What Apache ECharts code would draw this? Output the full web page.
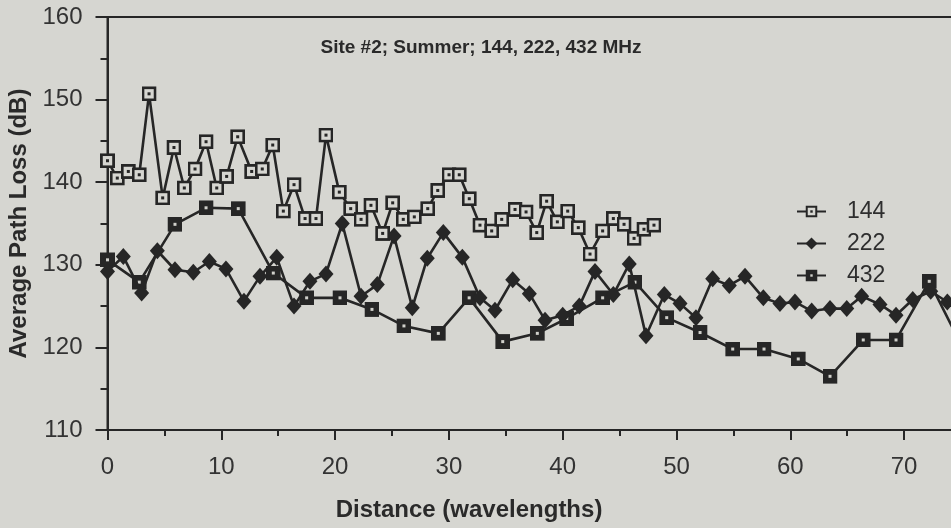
<!DOCTYPE html>
<html>
<head>
<meta charset="utf-8">
<script src="https://cdn.jsdelivr.net/npm/echarts/dist/echarts.min.js"></script>
<style>
html,body{margin:0;padding:0;background:#d6d6d1;}
#chart{width:951px;height:528px;}
</style>
</head>
<body>
<div id="chart"></div>
<script>
// ---- data ----
const seriesNames = ['144', '222', '432'];
const xTicks = [0, 10, 20, 30, 40, 50, 60, 70];
const yTicks = [110, 120, 130, 140, 150, 160];

const x144 = [0, 0.86, 1.83, 2.79, 3.65, 4.85, 5.84, 6.75, 7.69, 8.66, 9.6, 10.47, 11.44, 12.67, 13.6, 14.52, 15.45, 16.39, 17.36, 18.32, 19.2, 20.37, 21.37, 22.28, 23.15, 24.18, 25.06, 25.99, 26.96, 28.14, 29.02, 30.01, 30.91, 31.79, 32.73, 33.76, 34.64, 35.81, 36.78, 37.72, 38.59, 39.53, 40.44, 41.37, 42.4, 43.51, 44.45, 45.39, 46.27, 47.14, 48.02];
const y144 = [142.6, 140.5, 141.3, 140.9, 150.7, 138.1, 144.2, 139.3, 141.6, 144.9, 139.3, 140.7, 145.5, 141.3, 141.6, 144.5, 136.5, 139.7, 135.6, 135.6, 145.7, 138.8, 136.8, 135.5, 137.2, 133.8, 137.5, 135.5, 135.8, 136.8, 139.0, 140.9, 140.9, 138.0, 134.8, 134.1, 135.5, 136.7, 136.4, 133.9, 137.7, 135.2, 136.5, 134.5, 131.3, 134.1, 135.6, 134.9, 133.2, 134.3, 134.8];

const x222 = [0, 1.39, 3.0, 4.38, 5.93, 7.54, 8.95, 10.41, 11.99, 13.4, 14.87, 16.39, 17.79, 19.2, 20.63, 22.28, 23.71, 25.18, 26.78, 28.1, 29.51, 31.18, 32.73, 34.05, 35.61, 37.07, 38.45, 40.0, 41.46, 42.84, 44.45, 45.85, 47.32, 48.93, 50.31, 51.71, 53.18, 54.64, 56.02, 57.63, 59.09, 60.41, 61.88, 63.49, 64.96, 66.27, 67.88, 69.29, 70.76, 72.34, 73.8];
const y222 = [129.2, 131.0, 126.6, 131.7, 129.4, 129.1, 130.4, 129.5, 125.6, 128.6, 130.9, 125.0, 128.0, 128.9, 135.0, 126.2, 127.6, 133.5, 124.8, 130.8, 133.9, 130.9, 126.0, 124.5, 128.2, 126.5, 123.3, 123.9, 125.0, 129.2, 126.4, 130.1, 121.4, 126.4, 125.3, 123.6, 128.3, 127.5, 128.6, 126.0, 125.3, 125.5, 124.4, 124.7, 124.7, 126.2, 125.2, 123.9, 125.8, 126.8, 125.5];

const x432 = [0, 2.79, 5.93, 8.66, 11.49, 14.57, 17.5, 20.43, 23.24, 26.05, 29.07, 31.78, 34.73, 37.77, 40.35, 43.51, 46.35, 49.14, 52.07, 54.94, 57.69, 60.7, 63.49, 66.41, 69.29, 72.21, 75.09];
const y432 = [130.6, 127.9, 134.9, 136.9, 136.8, 129.0, 126.0, 126.0, 124.6, 122.6, 121.7, 126.0, 120.7, 121.7, 123.5, 126.0, 127.9, 123.6, 121.8, 119.8, 119.8, 118.6, 116.5, 120.9, 120.9, 128.0, 120.1];

// ---- styling ----
const BG = '#d6d6d1';
const INK = '#262626';
const FONT = "'Liberation Sans', Arial, Helvetica, sans-serif";

function svgSymbol(svg) {
  return 'image://data:image/svg+xml;charset=utf-8,' + encodeURIComponent(svg);
}
const sym144 = svgSymbol("<svg xmlns='http://www.w3.org/2000/svg' width='30' height='30' viewBox='0 0 15 15'><rect x='1.4' y='1.4' width='12.2' height='12.2' fill='" + BG + "' stroke='" + INK + "' stroke-width='2.8'/><rect x='6' y='6' width='3' height='3' fill='" + INK + "'/></svg>");
const sym432 = svgSymbol("<svg xmlns='http://www.w3.org/2000/svg' width='30' height='30' viewBox='0 0 15 15'><rect x='0' y='0' width='15' height='15' fill='" + INK + "'/><rect x='6' y='6' width='3' height='3' fill='#d0d0cb'/></svg>");

const pairs = (xs, ys) => xs.map((x, i) => [x, ys[i]]);

const chart = echarts.init(document.getElementById('chart'), null, {renderer: 'canvas'});
chart.setOption({
  animation: false,
  backgroundColor: BG,
  grid: {
    left: 107.5, top: 17, bottom: 98, width: 910.4,
    containLabel: false, outerBoundsMode: 'none',
    show: true, borderColor: INK, borderWidth: 2, backgroundColor: 'transparent'
  },
  legend: {
    orient: 'vertical',
    left: 791, top: 195,
    itemWidth: 29, itemHeight: 15, itemGap: 9,
    data: seriesNames,
    textStyle: {fontFamily: FONT, fontSize: 23, color: '#2e2e2e', lineHeight: 22, padding: [0, 0, 0, 16]}
  },
  xAxis: {
    type: 'value', min: 0, max: 80, interval: 10,
    axisLine: {lineStyle: {color: INK, width: 2}},
    axisTick: {show: true, length: 10, lineStyle: {color: INK, width: 2}},
    minorTick: {show: true, splitNumber: 2, length: 6, lineStyle: {color: INK, width: 2}},
    splitLine: {show: false},
    axisLabel: {
      fontFamily: FONT, fontSize: 24, color: '#333', margin: 25,
      formatter: v => (xTicks.indexOf(v) >= 0 ? String(v) : '')
    }
  },
  yAxis: {
    type: 'value', min: 110, max: 160, interval: 10,
    name: 'Average Path Loss (dB)', nameLocation: 'middle', nameGap: 74,
    nameTextStyle: {fontFamily: FONT, fontSize: 24, fontWeight: 'bold', color: '#2a2a2a'},
    axisLine: {lineStyle: {color: INK, width: 2}},
    axisTick: {show: true, length: 12, lineStyle: {color: INK, width: 2}},
    minorTick: {show: true, splitNumber: 2, length: 7, lineStyle: {color: INK, width: 2}},
    splitLine: {show: false},
    axisLabel: {
      fontFamily: FONT, fontSize: 24, color: '#333', margin: 25,
      formatter: v => (yTicks.indexOf(v) >= 0 ? String(v) : '')
    }
  },
  graphic: [
    {type: 'text', x: 481, y: 48, style: {text: 'Site #2; Summer; 144, 222, 432 MHz', font: 'bold 19px ' + FONT, fill: '#2a2a2a', align: 'center', verticalAlign: 'middle', textAlign: 'center', textVerticalAlign: 'middle'}},
    {type: 'text', x: 469, y: 510, style: {text: 'Distance (wavelengths)', font: 'bold 24px ' + FONT, fill: '#2a2a2a', align: 'center', verticalAlign: 'middle', textAlign: 'center', textVerticalAlign: 'middle'}}
  ],
  series: [
    {
      name: '144', type: 'line', data: pairs(x144, y144),
      symbol: sym144, symbolSize: 15, showAllSymbol: true,
      lineStyle: {color: INK, width: 2.6}, itemStyle: {color: INK}, z: 4
    },
    {
      name: '222', type: 'line', data: pairs(x222, y222),
      symbol: 'diamond', symbolSize: [15, 17], showAllSymbol: true,
      lineStyle: {color: INK, width: 2.6}, itemStyle: {color: INK}, z: 3
    },
    {
      name: '432', type: 'line', data: pairs(x432, y432),
      symbol: sym432, symbolSize: 15, showAllSymbol: true,
      lineStyle: {color: INK, width: 2.6}, itemStyle: {color: INK}, z: 2
    }
  ]
});
</script>
</body>
</html>
